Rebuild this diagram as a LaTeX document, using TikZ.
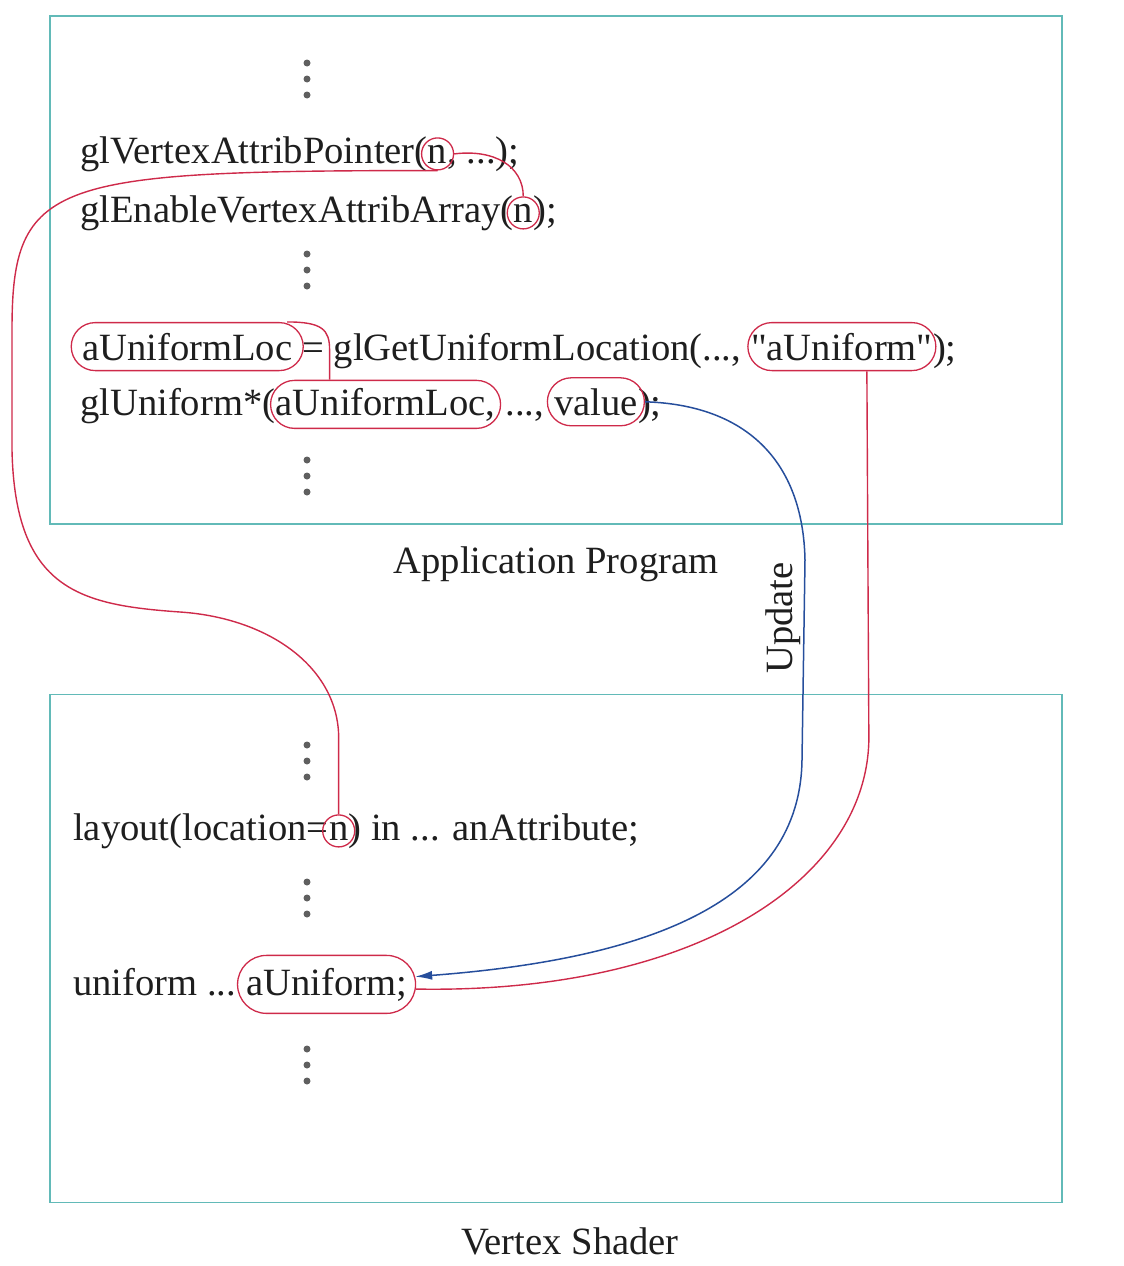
\documentclass[tikz,border=0pt]{standalone}
\usepackage{fontspec}
\setmainfont{Liberation Serif}[Ligatures=TeXOff]
\usetikzlibrary{shapes.misc, arrows.meta, calc, positioning}
\definecolor{myteal}{RGB}{98,186,184}
\definecolor{myred}{RGB}{206,42,74}
\definecolor{myblue}{RGB}{38,78,156}
\definecolor{mygray}{RGB}{95,95,95}
\definecolor{myink}{RGB}{30,30,30}
\newcommand{\codesize}{\fontsize{38.6}{46}\selectfont}
\newcommand{\gap}{9.6pt}
\tikzset{
    code/.style={anchor=base west, inner sep=0pt, text=myink, font=\codesize},
    frame/.style={draw=myteal, line width=1.6pt, minimum width=1012pt, minimum height=508pt},
    caption/.style={inner sep=0pt, text=myink, font=\codesize},
    ring/.style={draw=myred, line width=1.3pt, circle, minimum size=32pt, inner sep=0pt},
    oval/.style={draw=myred, line width=1.3pt, rounded rectangle, minimum height=48pt, inner sep=0pt},
    link/.style={myred, line width=1.4pt},
    update/.style={myblue, line width=1.5pt, -{Latex[length=17pt, width=9pt]}},
    updlabel/.style={rotate=90, anchor=south, inner sep=3pt, text=myink, font=\codesize}
}
\begin{document}
\begin{tikzpicture}[x=1pt, y=-1pt]
    \useasboundingbox (0,0) rectangle (1124,1266);

    \node[frame] (app) at (556,270) {};
    \node[frame] (vs) at (556,948.5) {};
    \node[caption, below=22pt of app] (appCap) {Application Program};
    \node[caption, below=24pt of vs, xshift=14pt] (vsCap) {Vertex Shader};

    \foreach \y in {79,270,476,761,898,1065}
        \foreach \d in {-16,0,16}
            \fill[mygray] (307,\y+\d) circle (3.5pt);

    \path
        node[code] (vpA) at (80,163) {glVertexAttribPointer(}
        node[code] (vpN) at (vpA.base east) {n}
        node[code] at (vpN.base east) {, ...);};
    \path
        node[code] (enA) at (80,222) {glEnableVertexAttribArray(}
        node[code] (enN) at (enA.base east) {n}
        node[code] at (enN.base east) {);};
    \path
        node[code] (locA) at (82,360) {aUniformLoc}
        node[code] (getA) at (locA.base east) {\ = glGetUniformLocation(...,}
        node[code] (nameA) at ([xshift=\gap]getA.base east) {"aUniform"}
        node[code] at (nameA.base east) {);};
    \path
        node[code] (uniB) at (80,415) {glUniform*(}
        node[code] (locB) at (uniB.base east) {aUniformLoc,}
        node[code] (dotsB) at (locB.base east) {\ ...,}
        node[code] (valB) at ([xshift=\gap]dotsB.base east) {value}
        node[code] at (valB.base east) {);};
    \path
        node[code] (layA) at (73,840) {layout(location=}
        node[code] (layN) at (layA.base east) {n}
        node[code] at (layN.base east) {) in ... anAttribute;};
    \path
        node[code] (unfA) at (73,995) {uniform ...}
        node[code] (unfN) at ([xshift=\gap]unfA.base east) {aUniform;};

    \node[ring] (vpNo) at (vpN.center) {};
    \node[ring] (enNo) at (enN.center) {};
    \node[oval, minimum width=232pt] (locAo) at (locA.center) {};
    \node[oval, minimum width=188pt] (nameAo) at (nameA.center) {};
    \node[oval, minimum width=230pt] (locBo) at (locB.center) {};
    \node[oval, minimum width=97pt] (valBo) at (valB.center) {};
    \node[ring] (layNo) at (layN.center) {};
    \node[oval, minimum width=178pt, minimum height=58pt] (unfNo) at (unfN.center) {};

    \draw[link] (vpNo.east) .. controls +(40,-5) and +(0,-30) .. (enNo.north);
    \draw[link] (layNo.north) -- ++(0,-76) .. controls +(0,-70) and +(90,6) .. (180,612)
        .. controls +(-100,-7) and +(3,140) .. (12,450) -- (12,330)
        .. controls +(0,-150) and +(-387,0) .. (vpNo.south);
    \draw[link] ($(locAo.north)+(100,0)$) .. controls +(35,0) and +(0,-20) .. ($(locBo.north)+(-56,-30)$)
        -- ($(locBo.north)+(-56,0)$);
    \draw[link] ($(nameAo.south)+(25,0)$) -- ++(2,368) .. controls +(-2,140) and +(280,5) .. (unfNo.-3);
    \draw[update] (valBo.east) .. controls +(100,3) and +(-2,-100) .. (805,560)
        -- node[updlabel, pos=.29] (upd) {Update} (802,760)
        .. controls +(-2,140) and +(238,-18) .. (unfNo.5);
\end{tikzpicture}
\end{document}
